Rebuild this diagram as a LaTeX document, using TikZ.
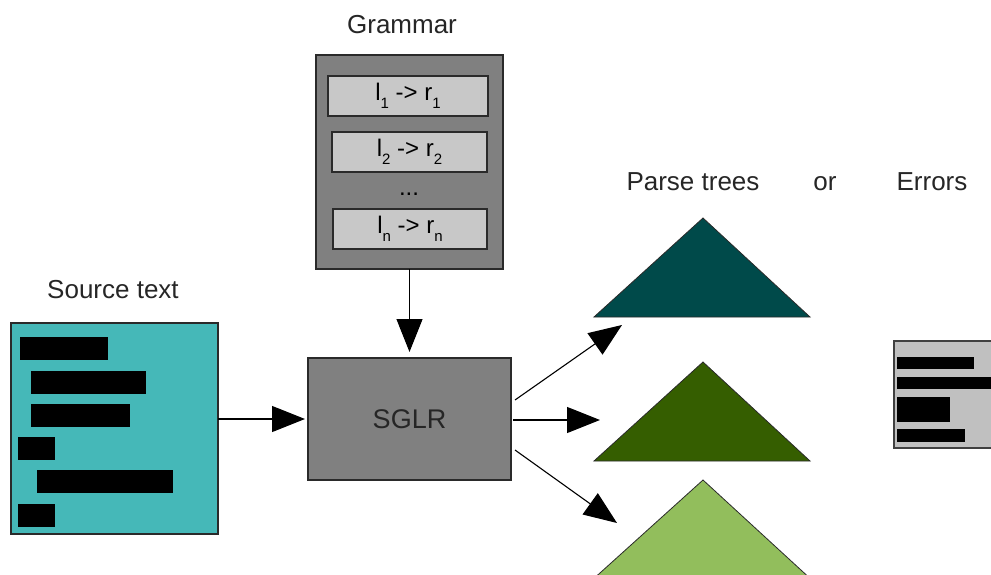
\documentclass[tikz,border=0pt]{standalone}
\usepackage{fontspec}
\setmainfont{Liberation Sans}
\usetikzlibrary{arrows.meta}
\definecolor{boxgray}{HTML}{808080}
\definecolor{rulegray}{HTML}{C8C8C8}
\definecolor{errgray}{HTML}{C0C0C0}
\definecolor{srcteal}{HTML}{45B8B8}
\definecolor{treeA}{HTML}{004A4A}
\definecolor{treeB}{HTML}{355E00}
\definecolor{treeC}{HTML}{92BE5C}
\definecolor{edge}{HTML}{2A2A2A}
\newcommand{\rulefont}{\fontsize{24}{26}\selectfont}
\newcommand{\subidx}[1]{\raisebox{-8pt}{\fontsize{15}{15}\selectfont #1}}
\tikzset{
  box/.style={draw=edge, line width=1.4pt, inner sep=0pt, outer sep=0pt},
  rulebox/.style={box, fill=rulegray, minimum height=40pt, font=\rulefont},
  label/.style={font=\fontsize{26}{28}\selectfont, text=black!85, inner sep=0pt, anchor=base},
  flow/.style={draw=black, line width=1.1pt, -{Triangle[length=33pt,width=26pt]}},
  bar/.style={fill=black},
  tree/.style={draw=edge, line width=0.8pt}
}
\begin{document}
\begin{tikzpicture}[x=1pt,y=-1pt]
\useasboundingbox (0,0) rectangle (991,575);
\clip (0,0) rectangle (991,575);
% labels
\node[label] (lgram) at (402,34) {Grammar};
\node[label] (lsrc) at (113,298) {Source text};
\node[label] (lparse) at (693,190) {Parse trees};
\node[label] (lor) at (825,190) {or};
\node[label] (lerr) at (932,190) {Errors};
% grammar
\node[box, fill=boxgray, minimum width=187pt, minimum height=214pt] (grammar) at (409.5,162) {};
\node[rulebox, minimum width=160pt] (r1) at (408,96) {l\subidx{1} -> r\subidx{1}};
\node[rulebox, minimum width=155pt] (r2) at (409.5,152) {l\subidx{2} -> r\subidx{2}};
\node[font=\rulefont, inner sep=0pt] (dots) at (409,194) {...};
\node[rulebox, minimum width=154pt] (r3) at (410,229) {l\subidx{n} -> r\subidx{n}};
% SGLR
\node[box, fill=boxgray, minimum width=203pt, minimum height=122pt, font=\fontsize{27}{29}\selectfont, text=black!85] (sglr) at (409.5,419) {SGLR};
% source text
\node[box, fill=srcteal, minimum width=207pt, minimum height=211pt] (source) at (114.5,428.5) {};
\fill[bar] (20,337) rectangle (108,360);
\fill[bar] (31,371) rectangle (146,394);
\fill[bar] (31,404) rectangle (130,427);
\fill[bar] (18,437) rectangle (55,460);
\fill[bar] (37,470) rectangle (173,493);
\fill[bar] (18,504) rectangle (55,527);
% errors
\node[box, draw=black!75, fill=errgray, minimum width=110pt, minimum height=107pt] (errors) at (949,394.5) {};
\fill[bar] (897,357) rectangle (974,369);
\fill[bar] (897,377) rectangle (995,389);
\fill[bar] (897,397) rectangle (950,422);
\fill[bar] (897,429) rectangle (965,442);
% trees
\draw[tree, fill=treeA] (594,317) -- (703,218) -- (810,317) -- cycle;
\draw[tree, fill=treeB] (594,461) -- (703,362) -- (810,461) -- cycle;
\draw[tree, fill=treeC] (590,582) -- (703,480) -- (814,582) -- cycle;
% arrow tips
\coordinate (t1) at (622,325);
\coordinate (t2) at (600,420);
\coordinate (t3) at (617,523);
% connectors
\draw[flow] (grammar.south) -- ([yshift=6pt]sglr.north);
\draw[flow] (source.east |- sglr.west) -- ([xshift=-3pt]sglr.west);
\draw[flow] ([xshift=4pt,yshift=19pt]sglr.east) -- (t1);
\draw[flow] ([xshift=2pt,yshift=-1pt]sglr.east) -- (t2);
\draw[flow] ([xshift=4pt,yshift=-31pt]sglr.east) -- (t3);
\end{tikzpicture}
\end{document}
